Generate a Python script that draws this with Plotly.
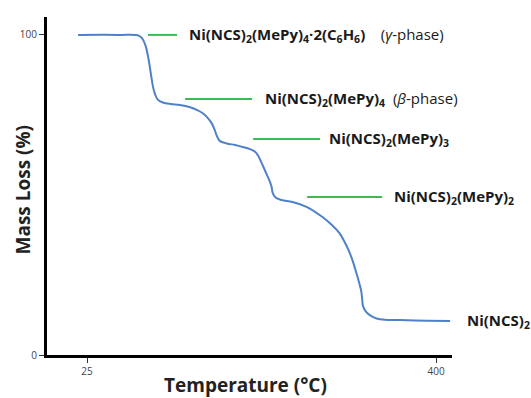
import plotly.graph_objects as go

# TGA curve
temperature = [15.4, 60, 80.5, 84.5, 88.0, 91.0, 93.5, 95.7, 98.0, 101.0, 106.4, 115, 124.6, 135,
               142.9, 149, 153.6, 158.5, 162.1, 164.5, 167.5, 175, 184, 192.1, 200, 205.5,
               209.0, 212.5, 216.5, 220.5, 223.0, 224.5, 227.5, 234, 245.7, 260.7, 277.9,
               288, 296.1, 303.6, 309.5, 314.3, 317.5, 319.6, 320.5, 321.5, 325, 330, 336,
               345, 360.4, 390, 415]
mass = [100, 100, 99.8, 98.8, 96.5, 92.5, 88.0, 84.0, 81.5, 79.8, 78.9, 78.4, 78.1, 77.5,
        76.6, 75.6, 74.4, 72.6, 70.3, 68.4, 66.9, 66.1, 65.6, 65.0, 64.3, 63.5,
        62.2, 60.0, 57.4, 54.8, 52.8, 50.6, 49.2, 48.4, 47.8, 46.3, 43.1,
        40.6, 38.1, 34.2, 30.1, 25.6, 22.3, 19.8, 17.5, 15.2, 13.4, 12.2, 11.4,
        11.0, 10.9, 10.7, 10.6]

# phase labels
labels = [
    "<b>Ni(NCS)<sub>2</sub>(MePy)<sub>4</sub>·2(C<sub>6</sub>H<sub>6</sub>)</b>    (<i>γ</i>-phase)",
    "<b>Ni(NCS)<sub>2</sub>(MePy)<sub>4</sub></b>  (<i>β</i>-phase)",
    "<b>Ni(NCS)<sub>2</sub>(MePy)<sub>3</sub></b>",
    "<b>Ni(NCS)<sub>2</sub>(MePy)<sub>2</sub></b>",
    "<b>Ni(NCS)<sub>2</sub></b>",
]
label_mass = [100, 80, 67.5, 49.4, 10.6]
leader_start = [90.5, 130.3, 203.4, 261.4, None]
leader_end = [121.7, 202.3, 275.3, 342.0, None]
label_T = [132.4, 214.1, 282.9, 352.7, 431.0]

x_ticks = [25, 400]
y_ticks = [0, 100]
x_range = [-18, 417]
y_range = [0, 105.6]

fig = go.Figure()
fig.add_trace(go.Scatter(x=temperature, y=mass, mode="lines",
                         line=dict(color="#4f81c7", width=2, shape="spline", smoothing=1.0),
                         hoverinfo="skip", showlegend=False))

for i, txt in enumerate(labels):
    if leader_start[i] is not None:
        fig.add_shape(type="line", x0=leader_start[i], x1=leader_end[i],
                      y0=label_mass[i], y1=label_mass[i],
                      line=dict(color="#3cbb55", width=2))
    # express label x as fraction of the axis so labels beyond the range are still drawn
    xfrac = (label_T[i] - x_range[0]) / (x_range[1] - x_range[0])
    fig.add_annotation(xref="x domain", x=xfrac, yref="y", y=label_mass[i], text=txt,
                       showarrow=False, xanchor="left", yanchor="middle",
                       font=dict(family="Open Sans", size=15, color="#1a1a1a"))

# axis titles as annotations for exact placement
fig.add_annotation(xref="paper", yref="paper", x=-0.059, y=0.49, text="<b>Mass Loss (%)</b>",
                   textangle=-90, showarrow=False, xanchor="center", yanchor="middle",
                   font=dict(family="Open Sans", size=19, color="#222"))
fig.add_annotation(xref="paper", yref="paper", x=0.49, y=-0.088, text="<b>Temperature (°C)</b>",
                   showarrow=False, xanchor="center", yanchor="middle",
                   font=dict(family="Open Sans", size=19, color="#222"))

fig.update_layout(
    width=531, height=398,
    margin=dict(l=47, r=79, t=17, b=43),
    paper_bgcolor="white", plot_bgcolor="white",
    font=dict(family="Open Sans"),
    xaxis=dict(range=x_range, tickvals=x_ticks, ticks="outside", ticklen=5,
               tickcolor="#333", showgrid=False, zeroline=False, automargin=False,
               showline=True, linecolor="black", linewidth=3,
               tickfont=dict(size=10, color="#444")),
    yaxis=dict(range=y_range, tickvals=y_ticks, ticks="outside", ticklen=5,
               tickcolor="#333", showgrid=False, zeroline=False, automargin=False,
               showline=True, linecolor="black", linewidth=3,
               tickfont=dict(size=10, color="#444")),
)

fig.write_html("out.html")
